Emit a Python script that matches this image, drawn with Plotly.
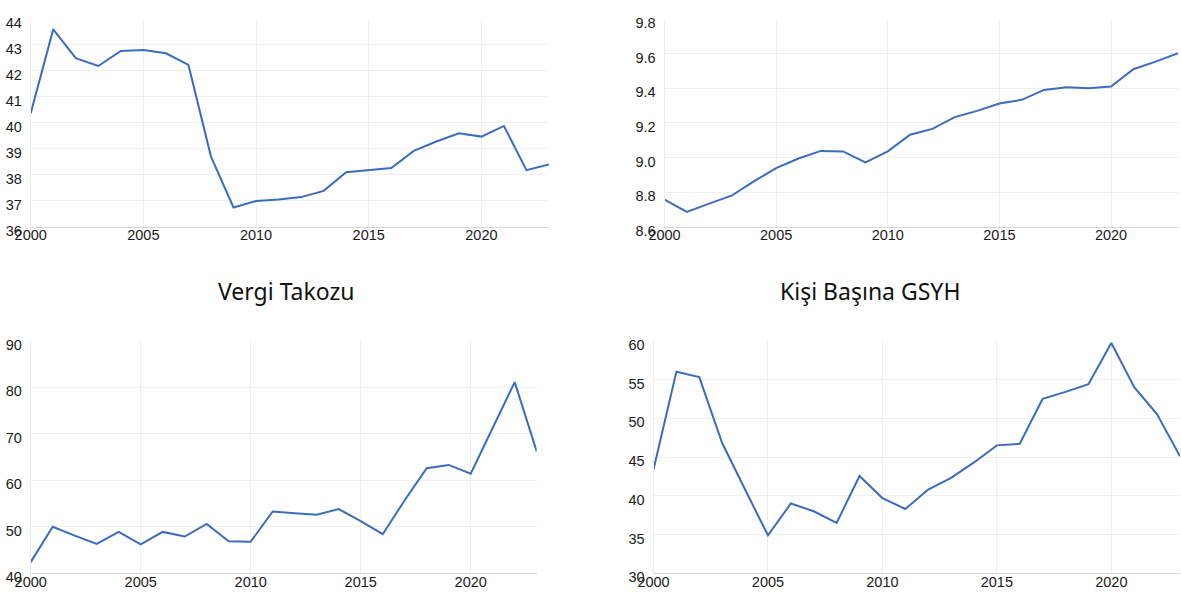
import plotly.graph_objects as go

years = list(range(2000, 2024))

vergi_takozu = [40.37, 43.6, 42.49, 42.19, 42.77, 42.81, 42.68, 42.23, 38.7, 36.74,
                36.99, 37.05, 37.14, 37.38, 38.1, 38.19, 38.26, 38.92, 39.28, 39.6,
                39.47, 39.88, 38.18, 38.4]

kisi_basina_gsyh = [8.756, 8.685, 8.733, 8.779, 8.862, 8.938, 8.994, 9.038, 9.035, 8.971,
                    9.035, 9.131, 9.165, 9.233, 9.269, 9.312, 9.333, 9.390, 9.406, 9.400,
                    9.410, 9.510, 9.554, 9.602]

seri_3 = [42.4, 50.0, 48.1, 46.3, 48.9, 46.2, 48.9, 47.9, 50.6, 46.9,
          46.8, 53.3, 52.9, 52.6, 53.8, 51.2, 48.4, 55.7, 62.6, 63.3,
          61.4, 71.2, 81.1, 66.2]

seri_4 = [43.4, 56.0, 55.3, 46.8, 40.8, 34.9, 39.0, 38.0, 36.5, 42.55,
          39.7, 38.3, 40.8, 42.3, 44.3, 46.5, 46.7, 52.5, 53.4, 54.4,
          59.7, 54.0, 50.5, 45.1]

titles = ["Vergi Takozu", "Kişi Başına GSYH"]

W, H = 1181, 592
LINE = "#3b6cbd"

panels = [
    # (values, x px range, y px range (top,bottom), y range, dtick, tickformat)
    (vergi_takozu, (30.7, 549), (19, 226.7), [36, 44], 1, ""),
    (kisi_basina_gsyh, (664.5, 1178), (19, 226.7), [8.6, 9.8], 0.2, ".1f"),
    (seri_3, (30.7, 536.7), (340.7, 573.3), [40, 90], 10, ""),
    (seri_4, (653.5, 1180), (340.7, 573.3), [30, 60], 5, ""),
]

fig = go.Figure()
layout = {}
for i, (vals, (x0, x1), (yt, yb), yr, dt, tf) in enumerate(panels, start=1):
    sfx = "" if i == 1 else str(i)
    fig.add_trace(go.Scatter(x=years, y=vals, mode="lines",
                             line=dict(color=LINE, width=2),
                             xaxis="x" + sfx, yaxis="y" + sfx,
                             showlegend=False, hoverinfo="x+y", cliponaxis=False))
    layout["xaxis" + sfx] = dict(
        domain=[x0 / W, x1 / W], anchor="y" + sfx, automargin=False,
        range=[2000, 2023], tick0=2000, dtick=5,
        showgrid=True, gridcolor="#efefef", gridwidth=1,
        showline=True, linecolor="#d6d6d6", linewidth=1,
        zeroline=False, ticks="", ticklabelstandoff=-5,
        tickfont=dict(family="Liberation Sans, Arial", size=14.5, color="#1a1a1a"),
    )
    layout["yaxis" + sfx] = dict(
        domain=[1 - yb / H, 1 - yt / H], anchor="x" + sfx, automargin=False,
        range=yr, dtick=dt, tick0=yr[0], tickformat=tf,
        showgrid=True, gridcolor="#efefef", gridwidth=1,
        showline=True, linecolor="#ececec", linewidth=1,
        zeroline=False, ticks="", ticklabelshift=4, ticklabelstandoff=5,
        tickfont=dict(family="Liberation Sans, Arial", size=14.5, color="#1a1a1a"),
    )

fig.update_layout(
    template="none",
    width=W, height=H,
    margin=dict(l=0, r=0, t=0, b=0, pad=0),
    paper_bgcolor="white", plot_bgcolor="white",
    **layout,
)

fig.add_annotation(text=titles[0], x=286 / W, y=1 - 291 / H, xref="paper", yref="paper",
                   showarrow=False, xanchor="center", yanchor="middle",
                   font=dict(family="Noto Sans", size=23, color="#111"))
fig.add_annotation(text=titles[1], x=870 / W, y=1 - 291 / H, xref="paper", yref="paper",
                   showarrow=False, xanchor="center", yanchor="middle",
                   font=dict(family="Noto Sans", size=23, color="#111"))

fig.write_html(
    "out.html",
    config={"displayModeBar": False},
    post_script="document.body.style.margin='0';document.body.style.padding='0';"
                "document.body.style.overflow='hidden';"
                "document.documentElement.style.overflow='hidden';",
)
